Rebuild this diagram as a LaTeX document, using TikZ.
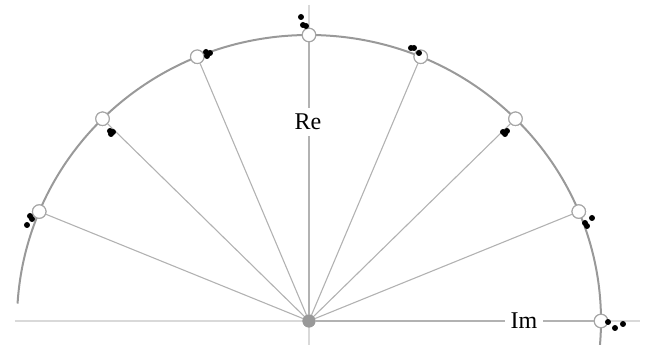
\documentclass[tikz,border=0pt]{standalone}
\usepackage{fontspec}
\setmainfont{Liberation Serif}
\begin{document}
\begin{tikzpicture}[x=1pt,y=1pt,
  axis/.style={draw=black!15,line width=1.2pt},
  spoke/.style={draw=black!30,line width=1.1pt},
  rim/.style={draw=black!40,line width=2pt},
  root/.style={circle,draw=black!35,fill=white,line width=1.1pt,minimum size=13.5pt,inner sep=0pt},
  origin/.style={circle,fill=black!40,minimum size=13pt,inner sep=0pt},
  pt/.style={circle,fill=black,minimum size=6pt,inner sep=0pt},
  lab/.style={fill=white,inner sep=6pt,font=\fontsize{24}{24}\selectfont}]
\useasboundingbox (-309,-24) rectangle (340,321);
\coordinate (hl) at (-294,0);
\coordinate (hr) at (331,0);
\coordinate (vt) at (0,316);
\coordinate (vb) at (0,-24);
\draw[axis] (hl) -- (hr);
\draw[axis] (vt) -- (vb);
\node[origin] (o) at (0,0) {};
\foreach \k in {0,...,7}{
  \node[root] (r\k) at ({292*cos(\k*22.5)},{286*sin(\k*22.5)}) {};
}
\foreach \k in {0,...,7}{
  \draw[spoke] (o) -- (r\k);
}
\draw[rim] (-5:292 and 286) arc[start angle=-5,end angle=176.5,x radius=292,y radius=286];
\foreach \k in {0,...,7}{
  \node[root] at (r\k) {};
}
\node[origin] at (o) {};
\node[lab] (re) at (-1,199) {Re};
\node[lab] (im) at (215,0) {Im};
% perturbed roots
\foreach \x/\y [count=\i] in {-8/304,-6/296,-3/295,
  -103/269,-99/268,-102/265,
  -199/190,-196/189,-198/187,
  -279/105,-277/102,-282/96,
  102/273,105/273,110/268,
  194/189,198/190,196/187,
  283/103,276/98,278/95,
  299/-1,306/-7,314/-3}{
  \node[pt] (p\i) at (\x,\y) {};
}
\end{tikzpicture}
\end{document}
